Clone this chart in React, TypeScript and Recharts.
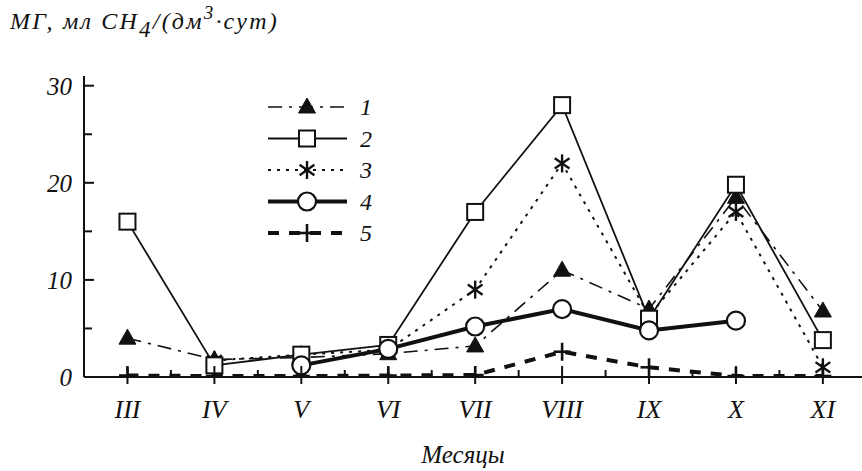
import React from 'react';
import { LineChart, Line, XAxis, YAxis, Legend, Customized } from 'recharts';

const months = ['III', 'IV', 'V', 'VI', 'VII', 'VIII', 'IX', 'X', 'XI'];
const series1 = [4.0, 1.8, 2.0, 2.4, 3.2, 11.0, 7.0, 18.5, 6.8];
const series2 = [16.0, 1.2, 2.3, 3.3, 17.0, 28.0, 6.0, 19.8, 3.8];
const series3 = [null, 1.7, 2.3, 2.8, 9.0, 22.0, 6.3, 17.0, 1.0];
const series4 = [null, null, 1.2, 2.9, 5.2, 7.0, 4.8, 5.8, null];
const series5 = [0.15, 0.1, 0.1, 0.15, 0.2, 2.6, 1.0, 0.1, 0.1];
const legendLabels = ['1', '2', '3', '4', '5'];
const yTicks = [0, 5, 10, 15, 20, 25, 30];

const data = months.map((m, i) => ({
  x: i,
  m,
  s1: series1[i],
  s2: series2[i],
  s3: series3[i],
  s4: series4[i],
  s5: series5[i],
}));

const majorX = months.map((_, i) => i);
const minorX = months.slice(1).map((_, i) => i + 0.5);
const xTicks = [...majorX, ...minorX].sort((a, b) => a - b);

const FONT_STYLE: React.CSSProperties = {
  fontFamily: "'Liberation Serif', 'DejaVu Serif', serif",
  fontStyle: 'italic',
};
const INK = '#111';

const Triangle = ({ cx, cy }: { cx: number; cy: number }) => (
  <path d={`M${cx},${cy - 9} L${cx + 8.5},${cy + 6} L${cx - 8.5},${cy + 6} Z`} fill={INK} stroke={INK} strokeWidth={1} />
);
const Square = ({ cx, cy }: { cx: number; cy: number }) => (
  <rect x={cx - 8} y={cy - 8} width={16} height={16} fill="#fff" stroke={INK} strokeWidth={2} />
);
const Star = ({ cx, cy }: { cx: number; cy: number }) => {
  const r = 9;
  const angs = [90, 35, 145];
  return (
    <g stroke={INK} strokeWidth={2.4}>
      {angs.map((a) => {
        const dx = Math.cos((a * Math.PI) / 180) * r;
        const dy = Math.sin((a * Math.PI) / 180) * r;
        return <line key={a} x1={cx - dx} y1={cy - dy} x2={cx + dx} y2={cy + dy} />;
      })}
    </g>
  );
};
const Circle = ({ cx, cy }: { cx: number; cy: number }) => (
  <circle cx={cx} cy={cy} r={9} fill="#fff" stroke={INK} strokeWidth={2.2} />
);
const Plus = ({ cx, cy }: { cx: number; cy: number }) => (
  <g stroke={INK} strokeWidth={2.6}>
    <line x1={cx - 8.5} y1={cy} x2={cx + 8.5} y2={cy} />
    <line x1={cx} y1={cy - 9} x2={cx} y2={cy + 9} />
  </g>
);

const seriesCfg = [
  { key: 's5', name: '5', width: 4, dash: '11 10', Marker: Plus },
  { key: 's3', name: '3', width: 2, dash: '3 6', Marker: Star },
  { key: 's1', name: '1', width: 1.6, dash: '14 7 3 7', Marker: Triangle },
  { key: 's2', name: '2', width: 1.8, dash: undefined, Marker: Square },
  { key: 's4', name: '4', width: 4, dash: undefined, Marker: Circle },
];

const makeDot = (key: string, Marker: any) => (props: any) => {
  const { cx, cy, index, value } = props;
  if (cx == null || cy == null || value == null || (Array.isArray(value) && value[1] == null)) {
    return <g key={`${key}-${index}`} />;
  }
  return (
    <g key={`${key}-${index}`}>
      <Marker cx={cx} cy={cy} />
    </g>
  );
};

const XTick = (props: any) => {
  const { x, y, payload } = props;
  const v = payload.value;
  const isMajor = Number.isInteger(v);
  if (!isMajor) {
    return <line x1={x} x2={x} y1={y - 7} y2={y} stroke={INK} strokeWidth={2} />;
  }
  return (
    <g>
      <line x1={x} x2={x} y1={y - 11} y2={y + 7} stroke={INK} strokeWidth={2} />
      <text x={x} y={y + 41} textAnchor="middle" style={{ ...FONT_STYLE, fontSize: 26 }} fill={INK}>
        {months[v]}
      </text>
    </g>
  );
};

const YTick = (props: any) => {
  const { x, y, payload } = props;
  const v = payload.value;
  const axisX = x + 12;
  const major = v % 10 === 0;
  return (
    <g>
      {v !== 0 && (
        <line x1={axisX} x2={axisX + (major ? 10 : 8)} y1={y} y2={y} stroke={INK} strokeWidth={2} />
      )}
      {major && (
        <text x={x} y={y} dy="0.36em" textAnchor="end" style={{ ...FONT_STYLE, fontSize: 25 }} fill={INK}>
          {v}
        </text>
      )}
    </g>
  );
};

const legendOrder = ['1', '2', '3', '4', '5'];

const renderLegend = () => (
  <svg width={140} height={160} style={{ display: 'block' }}>
    {legendOrder.map((name, i) => {
      const cfg = seriesCfg.find((s) => s.name === name)!;
      const cy = 17 + i * 31.5;
      const M = cfg.Marker;
      return (
        <g key={name}>
          <line x1={8} x2={87} y1={cy} y2={cy} stroke={INK} strokeWidth={cfg.width} strokeDasharray={cfg.dash} />
          <M cx={47} cy={cy} />
          <text x={100} y={cy + 8} style={{ ...FONT_STYLE, fontSize: 24 }} fill={INK}>
            {legendLabels[i]}
          </text>
        </g>
      );
    })}
  </svg>
);

const Texts = () => (
  <g fill={INK}>
    <text x={10} y={29} style={{ ...FONT_STYLE, fontSize: 24, letterSpacing: 2.2 }}>
      <tspan>МГ, мл CH</tspan>
      <tspan dy={8} style={{ fontSize: 23 }}>4</tspan>
      <tspan dy={-8}>/(дм</tspan>
      <tspan dy={-10} style={{ fontSize: 19 }}>3</tspan>
      <tspan dy={10}>·сут)</tspan>
    </text>
    <text x={463} y={463} textAnchor="middle" style={{ ...FONT_STYLE, fontSize: 25 }}>
      Месяцы
    </text>
  </g>
);

export default function App() {
  return (
    <div style={{ position: 'absolute', left: 0, top: 0, width: 862, height: 471, background: '#fff' }}>
      <LineChart width={862} height={471} data={data} margin={{ top: 76, right: 0, bottom: 34, left: 24 }}>
        <XAxis
          type="number"
          dataKey="x"
          domain={[-0.5, 8.45]}
          allowDataOverflow
          ticks={xTicks}
          interval={0}
          tick={XTick}
          tickLine={false}
          tickSize={0}
          tickMargin={0}
          height={60}
          axisLine={{ stroke: INK, strokeWidth: 2 }}
        />
        <YAxis
          type="number"
          domain={[0, 31]}
          allowDataOverflow
          ticks={yTicks}
          interval={0}
          tick={YTick}
          tickLine={false}
          tickSize={0}
          tickMargin={12}
          width={60}
          axisLine={{ stroke: INK, strokeWidth: 2 }}
        />
        {seriesCfg.map((s) => (
          <Line
            key={s.key}
            dataKey={s.key}
            name={s.name}
            type="linear"
            stroke={INK}
            strokeWidth={s.width}
            strokeDasharray={s.dash}
            dot={makeDot(s.key, s.Marker)}
            activeDot={false}
            isAnimationActive={false}
          />
        ))}
        <Legend
          layout="vertical"
          align="center"
          verticalAlign="middle"
          content={renderLegend}
          wrapperStyle={{ position: 'absolute', left: 260, top: 90, width: 140, height: 160 }}
        />
        <Customized component={Texts} />
      </LineChart>
    </div>
  );
}
